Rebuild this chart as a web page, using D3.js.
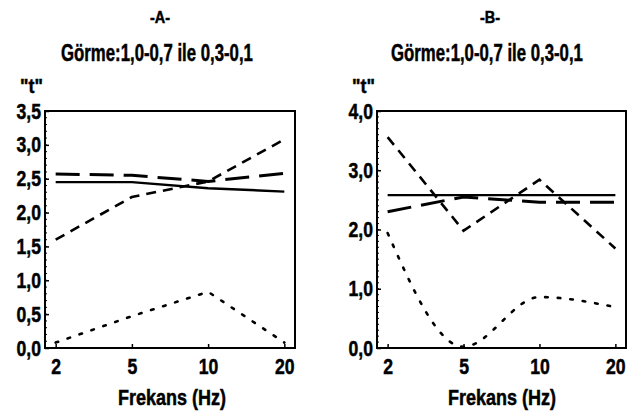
<!DOCTYPE html>
<html>
<head>
<meta charset="utf-8">
<script src="https://cdn.jsdelivr.net/npm/d3@7"></script>
<style>
  body { margin: 0; background: #fff; }
  text { font-family: "Liberation Sans", Arial, sans-serif; font-weight: bold; fill: #000; stroke: #000; stroke-width: 0.5px; }
</style>
</head>
<body>
<div id="container"></div>
<script>
// frequencies (categorical, equally spaced)
var freqs = ["2", "5", "10", "20"]

// panel A
var solidA = [2.45, 2.45, 2.36, 2.31]
var longA  = [2.57, 2.55, 2.46, 2.58]
var medA   = [1.60, 2.23, 2.46, 3.08]
var dotA   = [0.08, 0.47, 0.83, 0.08]
var ticksA = [0, 0.5, 1, 1.5, 2, 2.5, 3, 3.5]

// panel B
var solidB = [2.58, 2.58, 2.58, 2.58]
var longB  = [2.30, 2.55, 2.46, 2.46]
var medB   = [3.56, 1.98, 2.84, 1.68]
var dotB   = [1.94, 0.02, 0.86, 0.69]
var ticksB = [0, 1, 2, 3, 4]

var titleA = "-A-", titleB = "-B-"
var subtitle = "Görme:1,0-0,7 ile 0,3-0,1"
var xTitle = "Frekans (Hz)"
var yTitle = "\"t\""

var W = 637, H = 411

var svg = d3.select('#container').append('svg')
    .attr('width', W)
    .attr('height', H)

var fmt = function(v) { return d3.format(".1f")(v).replace(".", ",") }

// squeeze text horizontally around its anchor, the original uses a condensed face
function condense(sel, k) {
    sel.each(function() {
        var t = d3.select(this), ax = +t.attr('x') || 0
        t.attr('transform', 'translate(' + (ax * (1 - k)) + ',0) scale(' + k + ',1)')
    })
}
function fitWidth(sel, w) {
    sel.each(function() {
        condense(d3.select(this), w / this.getComputedTextLength())
    })
}

var styles = {
    solid: { w: 2.4, dash: null },
    long:  { w: 3, dash: "24,10" },
    med:   { w: 2.6, dash: "10,7" },
    dot:   { w: 2.6, dash: "2.6,10" }
}

function panel(opts) {
    var x = d3.scalePoint().domain(freqs).range([opts.left, opts.right]).padding(0.14)
    var y = d3.scaleLinear().domain([0, opts.ymax]).range([opts.bottom, opts.top])
    var g = svg.append('g')
    var cx = opts.cx

    g.append('text').attr('x', cx).attr('y', 23).attr('text-anchor', 'middle')
        .style('font-size', '17px').text(opts.title).call(condense, 0.85)
    g.append('text').attr('x', cx - 3).attr('y', 61).attr('text-anchor', 'middle')
        .style('font-size', '23px').text(subtitle).call(fitWidth, 192)
    g.append('text').attr('x', opts.left - 25).attr('y', 93).attr('text-anchor', 'start')
        .style('font-size', '21px').text(yTitle).call(condense, 0.85)

    // minor ticks on y axis
    var minor = d3.range(0, opts.ymax + 1e-9, 0.1)
    g.selectAll('.minor').data(minor).enter().append('line')
        .attr('x1', opts.left).attr('x2', opts.left + 2)
        .attr('y1', function(d) { return y(d) }).attr('y2', function(d) { return y(d) })
        .attr('stroke', '#000').attr('stroke-width', 1)

    var yAxis = d3.axisLeft(y).tickValues(opts.ticks).tickFormat(fmt).tickSize(-4).tickPadding(4)
    var ya = g.append('g').attr('transform', 'translate(' + opts.left + ',0)').call(yAxis)
    ya.select('.domain').remove()
    ya.selectAll('line').attr('stroke-width', 1.5)
    ya.selectAll('text').style('font-size', '22px').call(condense, 0.8)

    var xAxis = d3.axisBottom(x).tickSize(-4).tickPadding(10)
    var xa = g.append('g').attr('transform', 'translate(0,' + opts.bottom + ')').call(xAxis)
    xa.select('.domain').remove()
    xa.selectAll('line').attr('stroke-width', 1.5)
    xa.selectAll('text').style('font-size', '22px').call(condense, 0.8)

    g.append('text').attr('x', cx + 12).attr('y', 405).attr('text-anchor', 'middle')
        .style('font-size', '22px').text(xTitle).call(fitWidth, 108)

    // frame
    g.append('rect').attr('x', opts.left).attr('y', opts.top)
        .attr('width', opts.right - opts.left).attr('height', opts.bottom - opts.top)
        .attr('fill', 'none').attr('stroke', '#000').attr('stroke-width', 2)

    opts.series.forEach(function(s) {
        var line = d3.line()
            .x(function(d, i) { return x(freqs[i]) })
            .y(function(d) { return y(d) })
            .curve(s.curve || d3.curveLinear)
        var st = styles[s.style]
        g.append('path').datum(s.values)
            .attr('d', line)
            .attr('fill', 'none')
            .attr('stroke', '#000')
            .attr('stroke-width', st.w)
            .attr('stroke-dasharray', st.dash)
            .attr('stroke-linecap', s.style == 'dot' ? 'round' : 'butt')
    })
}

panel({
    left: 45, right: 295, top: 111, bottom: 348, cx: 160, ymax: 3.5, ticks: ticksA, title: titleA,
    series: [
        { values: solidA, style: 'solid' },
        { values: longA, style: 'long' },
        { values: medA, style: 'med' },
        { values: dotA, style: 'dot' }
    ]
})

panel({
    left: 377, right: 626, top: 111, bottom: 348, cx: 490, ymax: 4, ticks: ticksB, title: titleB,
    series: [
        { values: solidB, style: 'solid' },
        { values: longB, style: 'long' },
        { values: medB, style: 'med' },
        { values: dotB, style: 'dot', curve: d3.curveMonotoneX }
    ]
})
</script>
</body>
</html>
